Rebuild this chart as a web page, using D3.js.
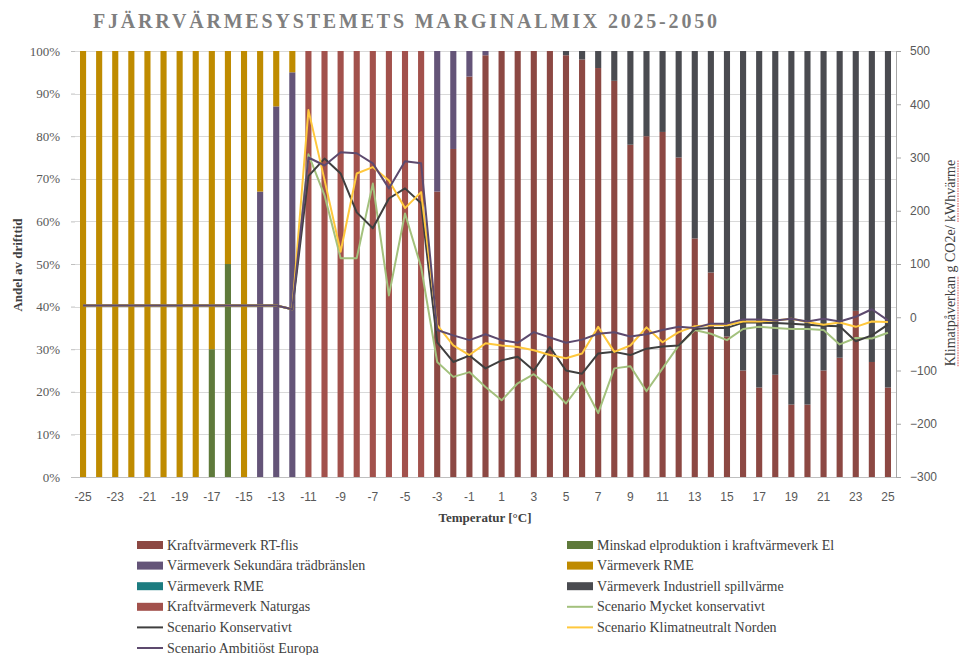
<!DOCTYPE html>
<html>
<head>
<meta charset="utf-8">
<script src="https://cdnjs.cloudflare.com/ajax/libs/d3/7.8.5/d3.min.js"></script>
<style>
  body { margin: 0; background: #fff; }
  svg { display: block; }
</style>
</head>
<body>
<svg></svg>
<script>
// Temperature categories (°C)
var temps = [-25,-24,-23,-22,-21,-20,-19,-18,-17,-16,-15,-14,-13,-12,-11,-10,-9,-8,-7,-6,-5,-4,-3,-2,-1,
             0,1,2,3,4,5,6,7,8,9,10,11,12,13,14,15,16,17,18,19,20,21,22,23,24,25];
var xTicks = [-25,-23,-21,-19,-17,-15,-13,-11,-9,-7,-5,-3,-1,1,3,5,7,9,11,13,15,17,19,21,23,25];
var leftTicks = [0,10,20,30,40,50,60,70,80,90,100];
var rightTicks = [-300,-200,-100,0,100,200,300,400,500];

// Share of operating time (%) per production unit
var rtFlis =      [0,0,0,0,0,0,0,0,0,0,0,0,0,0,0,0,0,0,0,0,0,0,
                   67,77,94,99,100,100,100,100,99,98,96,93,78,80,81,75,56,48,33,25,21,24,17,17,25,28,39,27,21];
var minskadEl =   [0,0,0,0,0,0,0,0,30,50,0,0,0,0,0,0,0,0,0,0,0,0,0,0,0,
                   0,0,0,0,0,0,0,0,0,0,0,0,0,0,0,0,0,0,0,0,0,0,0,0,0,0];
var sekundara =   [0,0,0,0,0,0,0,0,0,0,0,67,87,95,0,0,0,0,0,0,0,0,33,23,6,
                   1,0,0,0,0,0,0,0,0,0,0,0,0,0,0,0,0,0,0,0,0,0,0,0,0,0];
var rmeGuld =     [100,100,100,100,100,100,100,100,70,50,100,33,13,5,0,0,0,0,0,0,0,0,0,0,0,
                   0,0,0,0,0,0,0,0,0,0,0,0,0,0,0,0,0,0,0,0,0,0,0,0,0,0];
var rmeTurkos =   [0,0,0,0,0,0,0,0,0,0,0,0,0,0,0,0,0,0,0,0,0,0,0,0,0,
                   0,0,0,0,0,0,0,0,0,0,0,0,0,0,0,0,0,0,0,0,0,0,0,0,0,0];
var spillvarme =  [0,0,0,0,0,0,0,0,0,0,0,0,0,0,0,0,0,0,0,0,0,0,0,0,0,
                   0,0,0,0,0,1,2,4,7,22,20,19,25,44,52,67,75,79,76,83,83,75,72,61,73,79];
var naturgas =    [0,0,0,0,0,0,0,0,0,0,0,0,0,0,100,100,100,100,100,100,100,100,0,0,0,
                   0,0,0,0,0,0,0,0,0,0,0,0,0,0,0,0,0,0,0,0,0,0,0,0,0,0];

// Climate impact (g CO2e / kWh heat) per scenario
var mycketKonservativt = [22,22,22,22,22,22,22,22,22,22,22,22,22,15,306,229,111,111,251,41,195,94,
                   -84,-112,-103,-131,-156,-124,-107,-131,-162,-122,-180,-96,-92,-139,-96,-53,-24,-31,-43,-22,-18,-20,-22,-22,-24,-51,-39,-40,-29];
var konservativt = [22,22,22,22,22,22,22,22,22,22,22,22,22,15,265,298,270,197,167,223,242,214,
                   -47,-84,-72,-96,-81,-74,-100,-56,-100,-106,-68,-65,-71,-59,-55,-53,-22,-20,-20,-10,-10,-11,-12,-14,-16,-17,-45,-34,-14];
var klimatneutralt = [22,22,22,22,22,22,22,22,22,22,22,22,22,15,389,258,123,270,282,257,205,235,
                   -15,-53,-71,-49,-53,-56,-62,-71,-77,-68,-18,-65,-53,-19,-47,-28,-17,-15,-15,-8,-8,-6,-3,-9,-14,-10,-18,-8,-9];
var ambitiost = [22,22,22,22,22,22,22,22,22,22,22,22,22,15,300,285,310,308,289,242,293,289,
                   -24,-34,-43,-32,-43,-48,-28,-38,-48,-42,-31,-28,-36,-32,-24,-18,-20,-12,-12,-4,-4,-6,-3,-8,-3,-8,1,15,-6];

var barSeries = [
  { key: 'Kraftvärmeverk RT-flis', values: rtFlis, color: '#8c4843' },
  { key: 'Minskad elproduktion i kraftvärmeverk El', values: minskadEl, color: '#5f7a3b' },
  { key: 'Värmeverk Sekundära trädbränslen', values: sekundara, color: '#645478' },
  { key: 'Värmeverk RME', values: rmeGuld, color: '#bf8b00' },
  { key: 'Värmeverk RME ', values: rmeTurkos, color: '#1c7c80' },
  { key: 'Värmeverk Industriell spillvärme', values: spillvarme, color: '#4a4b50' },
  { key: 'Kraftvärmeverk Naturgas', values: naturgas, color: '#a2514c' }
];
var lineSeries = [
  { key: 'Scenario Mycket konservativt', values: mycketKonservativt, color: '#a3c17d' },
  { key: 'Scenario Konservativt', values: konservativt, color: '#3f3f3f' },
  { key: 'Scenario Klimatneutralt Norden', values: klimatneutralt, color: '#ffc83d' },
  { key: 'Scenario Ambitiöst Europa', values: ambitiost, color: '#5d4a6e' }
];

var svg = d3.select('svg').attr('width', 960).attr('height', 655),
    plotL = 75, plotR = 896, plotT = 51, plotB = 477,
    serif = "'Liberation Serif', 'Times New Roman', serif",
    sans = "'Liberation Sans', Arial, sans-serif";

var x = d3.scaleBand().domain(temps).range([plotL, plotR]).paddingInner(0.62).paddingOuter(0.31),
    y = d3.scaleLinear().domain([0, 100]).range([plotB, plotT]),
    yR = d3.scaleLinear().domain([-300, 500]).range([plotB, plotT]);

// table for the stack
var table = temps.map(function(t, i) {
  var row = { temp: t };
  barSeries.forEach(function(s) { row[s.key] = s.values[i]; });
  return row;
});
var stacked = d3.stack().keys(barSeries.map(function(s) { return s.key; }))(table);

// gridlines
svg.append('g')
  .selectAll('line')
  .data(leftTicks.slice(1))
  .enter().append('line')
  .attr('x1', plotL).attr('x2', plotR)
  .attr('y1', function(d) { return Math.round(y(d)) + 0.5; })
  .attr('y2', function(d) { return Math.round(y(d)) + 0.5; })
  .attr('stroke', '#d9d9d9').attr('stroke-width', 1);

// bars
svg.append('g')
  .selectAll('g')
  .data(stacked)
  .enter().append('g')
  .attr('fill', function(d, i) { return barSeries[i].color; })
  .selectAll('rect')
  .data(function(d) { return d; })
  .enter().append('rect')
  .attr('x', function(d) { return x(d.data.temp); })
  .attr('width', x.bandwidth())
  .attr('y', function(d) { return y(d[1]); })
  .attr('height', function(d) { return y(d[0]) - y(d[1]); });

// bottom axis line
svg.append('line')
  .attr('x1', plotL).attr('x2', plotR).attr('y1', plotB + 0.5).attr('y2', plotB + 0.5)
  .attr('stroke', '#bfbfbf');

// left axis
var gl = svg.append('g')
  .attr('transform', 'translate(' + plotL + ',0)')
  .call(d3.axisLeft(y).tickValues(leftTicks).tickSize(4).tickPadding(11).tickFormat(function(d) { return d + '%'; }));
gl.select('.domain').remove();
gl.selectAll('line').attr('stroke', '#bfbfbf');
gl.selectAll('text').attr('fill', '#595959').style('font-family', serif).style('font-size', '13px');

// right axis
var gr = svg.append('g')
  .attr('transform', 'translate(' + plotR + ',0)')
  .call(d3.axisRight(yR).tickValues(rightTicks).tickSize(5).tickPadding(9));
gr.select('.domain').attr('stroke', '#a6a6a6');
gr.selectAll('line').attr('stroke', '#a6a6a6');
gr.selectAll('text').attr('fill', '#595959').style('font-family', sans).style('font-size', '12px');

// x axis labels
var gx = svg.append('g')
  .attr('transform', 'translate(0,' + plotB + ')')
  .call(d3.axisBottom(x).tickValues(xTicks).tickSize(0).tickPadding(15));
gx.select('.domain').remove();
gx.selectAll('text').attr('fill', '#595959').style('font-family', sans).style('font-size', '12px');

// scenario lines
var line = d3.line()
  .x(function(d, i) { return x(temps[i]) + x.bandwidth() / 2; })
  .y(function(d) { return yR(d); });

svg.append('g')
  .selectAll('path')
  .data(lineSeries)
  .enter().append('path')
  .attr('fill', 'none')
  .attr('stroke', function(d) { return d.color; })
  .attr('stroke-width', 2)
  .attr('stroke-linejoin', 'round')
  .attr('d', function(d) { return line(d.values); });

// title
svg.append('text')
  .attr('x', 93).attr('y', 28)
  .attr('textLength', 624).attr('lengthAdjust', 'spacing')
  .attr('fill', '#7f7f7f')
  .style('font-family', serif).style('font-weight', 'bold').style('font-size', '20px')
  .text('FJÄRRVÄRMESYSTEMETS MARGINALMIX 2025-2050');

// axis titles
svg.append('text')
  .attr('transform', 'translate(22,265) rotate(-90)')
  .attr('text-anchor', 'middle')
  .attr('fill', '#404040')
  .style('font-family', serif).style('font-weight', 'bold').style('font-size', '13px')
  .text('Andel av drifttid');

// right axis title, with the spell-check squiggles under two words
var rg = svg.append('g').attr('transform', 'translate(955,263) rotate(-90)');
var rt = rg.append('text')
  .attr('text-anchor', 'middle')
  .attr('fill', '#404040')
  .style('font-family', serif).style('font-size', '14px');
rt.append('tspan').attr('class', 'sq').text('Klimatpåverkan');
rt.append('tspan').text(' g CO2e/ ');
rt.append('tspan').attr('class', 'sq').text('kWhvärme');
rt.selectAll('tspan.sq').each(function() {
  var b = this.getBBox();
  rg.append('line')
    .attr('x1', b.x).attr('x2', b.x + b.width)
    .attr('y1', 3).attr('y2', 3)
    .attr('stroke', '#e06a6a').attr('stroke-width', 1.2)
    .attr('stroke-dasharray', '1.5,1');
});

svg.append('text')
  .attr('x', 485).attr('y', 522)
  .attr('text-anchor', 'middle')
  .attr('fill', '#404040')
  .style('font-family', serif).style('font-weight', 'bold').style('font-size', '13px')
  .text('Temperatur [°C]');

// legend, two columns, filled row by row
var legendItems = barSeries.map(function(s) { return { key: s.key.trim(), color: s.color, type: 'rect' }; })
  .concat(lineSeries.map(function(s) { return { key: s.key, color: s.color, type: 'line' }; }));

var lg = svg.append('g')
  .selectAll('g')
  .data(legendItems)
  .enter().append('g')
  .attr('transform', function(d, i) {
    return 'translate(' + (i % 2 ? 567 : 137) + ',' + (545 + Math.floor(i / 2) * 20.6) + ')';
  });

lg.filter(function(d) { return d.type === 'rect'; })
  .append('rect')
  .attr('x', 0).attr('y', -4).attr('width', 26).attr('height', 8)
  .attr('fill', function(d) { return d.color; });

lg.filter(function(d) { return d.type === 'line'; })
  .append('line')
  .attr('x1', 0).attr('x2', 26)
  .attr('stroke', function(d) { return d.color; })
  .attr('stroke-width', 2);

lg.append('text')
  .attr('x', 30).attr('y', 4.5)
  .attr('fill', '#404040')
  .style('font-family', serif).style('font-size', '14px')
  .text(function(d) { return d.key; });
</script>
</body>
</html>
